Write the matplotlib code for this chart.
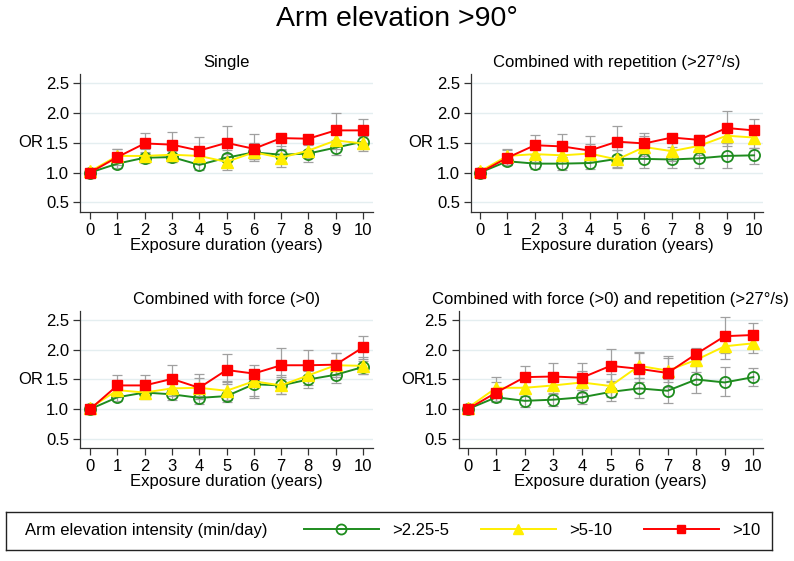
import matplotlib
matplotlib.use("Agg")
import matplotlib.pyplot as plt
from matplotlib.lines import Line2D

plt.rcParams["font.family"] = ["Liberation Sans", "DejaVu Sans"]

years = list(range(11))
yticks = [0.5, 1.0, 1.5, 2.0, 2.5]

# ---- Single ----
single_green = [1.0, 1.15, 1.25, 1.26, 1.13, 1.25, 1.34, 1.30, 1.32, 1.42, 1.52]
single_green_lo = [1.0, 1.08, 1.16, 1.17, 1.04, 1.13, 1.22, 1.17, 1.18, 1.30, 1.40]
single_green_hi = [1.0, 1.23, 1.35, 1.36, 1.23, 1.38, 1.47, 1.44, 1.47, 1.55, 1.63]
single_yellow = [1.02, 1.28, 1.28, 1.30, 1.28, 1.18, 1.34, 1.25, 1.37, 1.54, 1.49]
single_yellow_lo = [1.02, 1.18, 1.17, 1.18, 1.15, 1.05, 1.22, 1.10, 1.25, 1.40, 1.36]
single_yellow_hi = [1.02, 1.39, 1.40, 1.42, 1.42, 1.32, 1.50, 1.40, 1.52, 1.70, 1.62]
single_red = [1.0, 1.26, 1.49, 1.47, 1.37, 1.50, 1.40, 1.58, 1.57, 1.71, 1.71]
single_red_lo = [1.0, 1.13, 1.33, 1.30, 1.17, 1.27, 1.20, 1.38, 1.38, 1.48, 1.50]
single_red_hi = [1.0, 1.40, 1.67, 1.69, 1.60, 1.78, 1.65, 1.64, 1.62, 2.00, 1.91]

# ---- Combined with repetition ----
rep_green = [1.0, 1.19, 1.15, 1.15, 1.16, 1.23, 1.23, 1.22, 1.24, 1.28, 1.29]
rep_green_lo = [1.0, 1.12, 1.06, 1.05, 1.06, 1.10, 1.08, 1.08, 1.07, 1.08, 1.15]
rep_green_hi = [1.0, 1.27, 1.25, 1.26, 1.27, 1.38, 1.40, 1.38, 1.44, 1.50, 1.42]
rep_yellow = [1.02, 1.28, 1.31, 1.29, 1.32, 1.22, 1.43, 1.36, 1.45, 1.62, 1.59]
rep_yellow_lo = [1.02, 1.18, 1.18, 1.16, 1.18, 1.08, 1.28, 1.20, 1.30, 1.45, 1.42]
rep_yellow_hi = [1.02, 1.38, 1.45, 1.42, 1.48, 1.38, 1.62, 1.52, 1.60, 1.80, 1.76]
rep_red = [1.0, 1.25, 1.46, 1.44, 1.37, 1.52, 1.49, 1.59, 1.55, 1.75, 1.71]
rep_red_lo = [1.0, 1.12, 1.30, 1.27, 1.18, 1.30, 1.32, 1.43, 1.38, 1.50, 1.52]
rep_red_hi = [1.0, 1.39, 1.64, 1.65, 1.61, 1.79, 1.67, 1.64, 1.64, 2.03, 1.91]

# ---- Combined with force ----
force_green = [1.0, 1.20, 1.28, 1.25, 1.19, 1.22, 1.42, 1.40, 1.50, 1.58, 1.71]
force_green_lo = [1.0, 1.13, 1.18, 1.16, 1.08, 1.12, 1.18, 1.25, 1.36, 1.44, 1.60]
force_green_hi = [1.0, 1.28, 1.38, 1.35, 1.30, 1.45, 1.65, 1.55, 1.65, 1.73, 1.82]
force_yellow = [1.02, 1.32, 1.28, 1.35, 1.36, 1.31, 1.47, 1.40, 1.57, 1.74, 1.73]
force_yellow_lo = [1.02, 1.20, 1.17, 1.22, 1.22, 1.16, 1.22, 1.25, 1.40, 1.55, 1.60]
force_yellow_hi = [1.02, 1.45, 1.40, 1.49, 1.52, 1.48, 1.60, 1.58, 1.75, 1.95, 1.88]
force_red = [1.0, 1.40, 1.40, 1.51, 1.36, 1.66, 1.60, 1.74, 1.74, 1.75, 2.04]
force_red_lo = [1.0, 1.24, 1.24, 1.32, 1.17, 1.43, 1.45, 1.50, 1.50, 1.58, 1.85]
force_red_hi = [1.0, 1.57, 1.58, 1.74, 1.60, 1.93, 1.74, 2.03, 2.00, 1.94, 2.24]

# ---- Combined with force and repetition ----
fr_green = [1.0, 1.20, 1.14, 1.16, 1.20, 1.29, 1.35, 1.31, 1.50, 1.45, 1.54]
fr_green_lo = [1.0, 1.12, 1.04, 1.05, 1.08, 1.13, 1.18, 1.11, 1.28, 1.22, 1.39]
fr_green_hi = [1.0, 1.30, 1.25, 1.27, 1.32, 1.45, 1.52, 1.50, 1.72, 1.71, 1.70]
fr_yellow = [1.02, 1.36, 1.36, 1.40, 1.45, 1.39, 1.73, 1.65, 1.83, 2.06, 2.11]
fr_yellow_lo = [1.02, 1.20, 1.22, 1.25, 1.28, 1.20, 1.52, 1.45, 1.62, 1.85, 1.95]
fr_yellow_hi = [1.02, 1.55, 1.55, 1.60, 1.65, 1.60, 1.95, 1.87, 2.02, 2.30, 2.28]
fr_red = [1.0, 1.28, 1.54, 1.55, 1.53, 1.73, 1.68, 1.61, 1.93, 2.23, 2.25]
fr_red_lo = [1.0, 1.13, 1.37, 1.35, 1.32, 1.48, 1.45, 1.38, 1.83, 1.95, 2.05]
fr_red_hi = [1.0, 1.45, 1.72, 1.78, 1.78, 2.02, 1.96, 1.89, 2.03, 2.55, 2.45]

GREEN, YELLOW, RED = "#1e8c1e", "#ffee00", "#ff0000"
ERR = "#a0a0a0"
legend_labels = [">2.25-5", ">5-10", ">10"]

panels = [
    ("Single", [0.1008, 0.6226, 0.3690, 0.2455], -0.126, -0.37, 10.37,
     [(single_green, single_green_lo, single_green_hi),
      (single_yellow, single_yellow_lo, single_yellow_hi),
      (single_red, single_red_lo, single_red_hi)]),
    ("Combined with repetition (>27°/s)", [0.5932, 0.6226, 0.3678, 0.2455], -0.131, -0.33, 10.33,
     [(rep_green, rep_green_lo, rep_green_hi),
      (rep_yellow, rep_yellow_lo, rep_yellow_hi),
      (rep_red, rep_red_lo, rep_red_hi)]),
    ("Combined with force (>0)", [0.1008, 0.2009, 0.3690, 0.2453], -0.126, -0.37, 10.37,
     [(force_green, force_green_lo, force_green_hi),
      (force_yellow, force_yellow_lo, force_yellow_hi),
      (force_red, force_red_lo, force_red_hi)]),
    ("Combined with force (>0) and repetition (>27°/s)", [0.5777, 0.2009, 0.3833, 0.2453], -0.107, -0.315, 10.34,
     [(fr_green, fr_green_lo, fr_green_hi),
      (fr_yellow, fr_yellow_lo, fr_yellow_hi),
      (fr_red, fr_red_lo, fr_red_hi)]),
]

styles = [
    dict(color=GREEN, marker="o", mfc="none", mec=GREEN, ms=8, mew=1.3),
    dict(color=YELLOW, marker="^", mfc=YELLOW, mec=YELLOW, ms=8.5),
    dict(color=RED, marker="s", mfc=RED, mec=RED, ms=7),
]

fig = plt.figure(figsize=(7.94, 5.61), dpi=100)

for title, rect, ylab_x, x0, x1, series in panels:
    ax = fig.add_axes(rect)
    # confidence intervals first, then the lines
    for est, lo, hi in series:
        err = [[e - l for e, l in zip(est, lo)], [h - e for e, h in zip(est, hi)]]
        ax.errorbar(years, est, yerr=err, fmt="none", ecolor=ERR, elinewidth=0.9,
                    capsize=3.5, capthick=0.9, zorder=2)
    for (est, lo, hi), st in zip(series, styles):
        ax.plot(years, est, lw=1.4, zorder=3, **st)
    ax.set_xlim(x0, x1)
    ax.set_ylim(0.34, 2.66)
    ax.set_xticks(years)
    ax.set_yticks(yticks)
    ax.set_yticklabels([f"{v:.1f}" for v in yticks])
    ax.grid(axis="y", color="#e4eef0", lw=1, zorder=0)
    ax.set_axisbelow(True)
    for s in ["top", "right"]:
        ax.spines[s].set_visible(False)
    for s in ["left", "bottom"]:
        ax.spines[s].set_color("#333333")
        ax.spines[s].set_linewidth(0.9)
    ax.tick_params(labelsize=12, length=5, width=0.9, color="#333333", pad=3)
    ax.set_title(title, fontsize=12, pad=5)
    ax.set_xlabel("Exposure duration (years)", fontsize=12, labelpad=0)
    ax.set_ylabel("OR", fontsize=12, rotation=0, ha="right", va="center")
    ax.yaxis.set_label_coords(ylab_x, (1.5 - 0.34) / (2.66 - 0.34))

fig.suptitle("Arm elevation >90°", fontsize=20.5, y=0.99)

# legend box along the bottom
lax = fig.add_axes([0.007, 0.02, 0.965, 0.068])
lax.set_xticks([])
lax.set_yticks([])
for s in lax.spines.values():
    s.set_linewidth(1.0)
    s.set_color("#222222")
lax.text(0.026, 0.5, "Arm elevation intensity (min/day)", fontsize=12,
         va="center", ha="left", transform=lax.transAxes)
handles = [Line2D([], [], lw=1.4, **st) for st in styles]
lax.legend(handles, legend_labels, ncol=3, loc="center right", frameon=False,
           fontsize=12, handlelength=4.5, handletextpad=0.8, columnspacing=1.9,
           bbox_to_anchor=(1.0, 0.5), borderaxespad=0.3, markerscale=0.9)

fig.savefig("out.png", dpi=100)
